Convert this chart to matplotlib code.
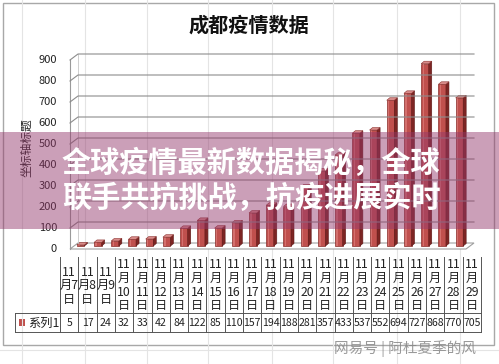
import numpy as np
import matplotlib
matplotlib.use("Agg")
from matplotlib import pyplot as plt
from matplotlib.patches import Polygon, Rectangle

plt.rcParams['font.family'] = ['Noto Sans CJK SC', 'DejaVu Sans']

title = "成都疫情数据"
y_label = "坐标轴标题"
series_name = "系列1"
days = [7, 8, 9, 10, 11, 12, 13, 14, 15, 16, 17, 18, 19, 20, 21, 22, 23, 24, 25, 26, 27, 28, 29]
cases = [5, 17, 24, 32, 33, 42, 84, 122, 85, 110, 157, 194, 188, 281, 357, 433, 537, 552, 694, 727, 868, 770, 705]
y_ticks = [0, 100, 200, 300, 400, 500, 600, 700, 800, 900]
banner_lines = ["全球疫情最新数据揭秘，全球", "联手共抗挑战，抗疫进展实时"]
watermark = "网易号 | 阿杜夏季的风"

W, H = 499, 364
fig = plt.figure(figsize=(W / 100, H / 100), dpi=100)
fig.patch.set_facecolor("white")

# pixel helpers (top-left origin like the screenshot)
def fx(px):
    return px / W

def fy(py):
    return 1 - py / H

# sheet grid behind the chart
bg = fig.add_axes([0, 0, 1, 1])
bg.set_xlim(0, W)
bg.set_ylim(H, 0)
bg.axis("off")
for gx in [22, 85, 147, 208, 272, 333, 397, 460]:
    bg.plot([gx, gx], [0, H], color="#e4e4e4", lw=0.8)
for gy in [350]:
    bg.plot([0, W], [gy, gy], color="#e4e4e4", lw=0.8)
bg.add_patch(Rectangle((3, 3), 491, 342, facecolor="white", edgecolor="#a8a8a8", lw=1.0))

bg.text(249, 25, title, ha="center", va="center", fontsize=14.5, fontweight="bold", color="#111111")
bg.text(27, 148, y_label, ha="center", va="center", rotation=90, fontsize=8.5, color="#222222")

# plot area: front plane x 70..466 px, y 249 (0) .. 60 (900)
n = len(cases)
x0, x1, yb, yt = 70, 466, 249, 60
ax = fig.add_axes([fx(x0), fy(yb), fx(x1) - fx(x0), fy(yt) - fy(yb)])
ax.set_xlim(-0.5, n - 0.5)
ax.set_ylim(0, 900)
ax.axis("off")
px_x = (n) / (x1 - x0)          # data per pixel, x
px_y = 900 / (yb - yt)          # data per pixel, y
bdx, bdy = 8 * px_x, 6 * px_y   # back wall offset

# floor
floor = Polygon([(-0.5, 0), (n - 0.5, 0), (n - 0.5 + bdx, bdy), (-0.5 + bdx, bdy)],
                closed=True, facecolor="white", edgecolor="#a0a0a0", lw=0.8, clip_on=False)
ax.add_patch(floor)
# left wall
ax.plot([-0.5, -0.5], [0, 900], color="#9a9a9a", lw=0.8, clip_on=False)
ax.plot([-0.5 + bdx, -0.5 + bdx], [bdy, 900 + bdy], color="#c8c8c8", lw=0.6, clip_on=False)
for v in y_ticks[1:]:
    ax.plot([-0.5, -0.5 + bdx, n - 0.5 + bdx], [v, v + bdy, v + bdy],
            color="#8c8c8c", lw=0.8, clip_on=False)
    ax.text(-0.5 - 13 * px_x, v, str(v), ha="right", va="center", fontsize=8, color="#222222")
ax.text(-0.5 - 13 * px_x, 0, "0", ha="right", va="center", fontsize=8, color="#222222")

# 3d bars
bw = 0.44
ox, oy = 2 * px_x, 3 * px_y
dx, dy = 3 * px_x, 2.5 * px_y
for i, v in enumerate(cases):
    l = i - bw / 2 + ox
    r = i + bw / 2 + ox
    ax.add_patch(Polygon([(l, oy), (r, oy), (r, v + oy), (l, v + oy)], closed=True,
                         facecolor="#c0504d", edgecolor="#8a2f2c", lw=0.5, clip_on=False))
    ax.add_patch(Polygon([(l + 0.08, oy), (l + 0.16, oy), (l + 0.16, v + oy), (l + 0.08, v + oy)],
                         closed=True, facecolor="#d4706d", edgecolor="none", clip_on=False))
    ax.add_patch(Polygon([(r, oy), (r + dx, oy + dy), (r + dx, v + oy + dy), (r, v + oy)], closed=True,
                         facecolor="#7d2523", edgecolor="#5e1a18", lw=0.4, clip_on=False))
    ax.add_patch(Polygon([(l, v + oy), (r, v + oy), (r + dx, v + oy + dy), (l + dx, v + oy + dy)],
                         closed=True, facecolor="#d98c8a", edgecolor="#8a2f2c", lw=0.4, clip_on=False))

# data table
tl, tr = 60, 481
top, mid, bot = 257, 313, 332
cw = (tr - tl) / n
line_c = "#555555"
bg.plot([15, tr], [mid, mid], color=line_c, lw=0.7)
bg.plot([15, tr], [bot, bot], color=line_c, lw=0.7)
bg.plot([15, 15], [mid, bot], color=line_c, lw=0.7)
for k in range(n + 1):
    cx = tl + k * cw
    bg.plot([cx, cx], [top, bot], color=line_c, lw=0.7)
for k, (d, v) in enumerate(zip(days, cases)):
    cx = tl + (k + 0.5) * cw
    if d < 10:
        rows = ["11", "月%d" % d, "日"]
        ys = [272, 285, 299]
    else:
        rows = ["11", "月", str(d), "日"]
        ys = [264, 278, 292, 306]
    for txt, yy in zip(rows, ys):
        bg.text(cx, yy, txt, ha="center", va="center", fontsize=8.8, color="#222222")
    bg.text(cx, 323, str(v), ha="center", va="center", fontsize=7.6, color="#222222")
bg.add_patch(Rectangle((19, 319), 6, 7, facecolor="#c0504d", edgecolor="none"))
bg.text(28, 323, series_name, ha="left", va="center", fontsize=8.8, color="#222222")

# watermark
bg.text(405, 349, watermark, ha="center", va="center", fontsize=10.5, color="#888888", alpha=0.85)

# pink banner overlay on top of everything
top_ax = fig.add_axes([0, 0, 1, 1])
top_ax.set_xlim(0, W)
top_ax.set_ylim(H, 0)
top_ax.axis("off")
top_ax.add_patch(Rectangle((0, 132), W, 97, facecolor=(0.58, 0.22, 0.42), alpha=0.48, edgecolor="none"))
for txt, yy in zip(banner_lines, [163, 198]):
    top_ax.text(251, yy, txt, ha="center", va="center", fontsize=21, fontweight="black", color="white")

fig.savefig("out.png", dpi=100)
